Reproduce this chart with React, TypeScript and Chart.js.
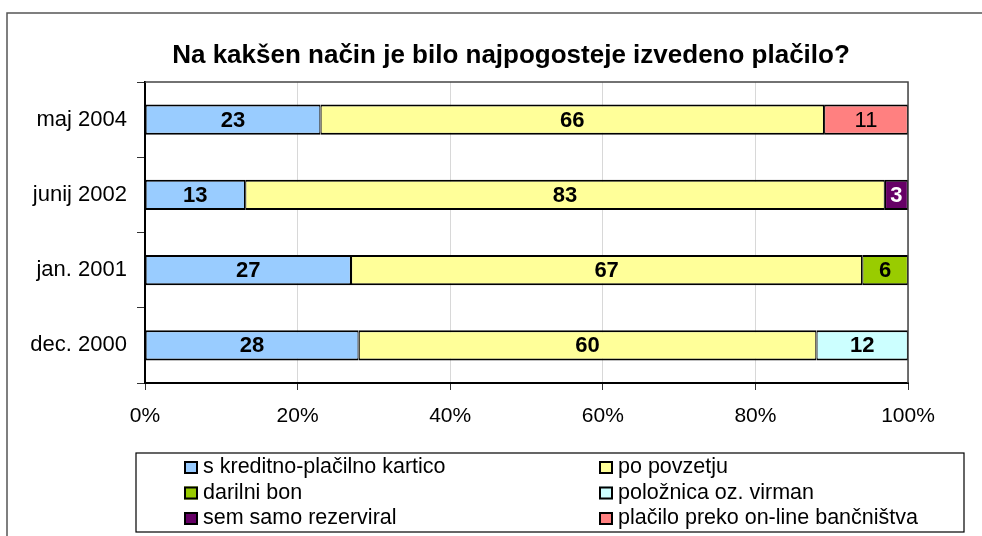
import React, { useEffect, useRef } from 'react';
import { Chart, registerables } from 'chart.js';

Chart.register(...registerables);

const titleText = 'Na kakšen način je bilo najpogosteje izvedeno plačilo?';
const categories = ['maj 2004', 'junij 2002', 'jan. 2001', 'dec. 2000'];
const seriesNames = [
  's kreditno-plačilno kartico',
  'po povzetju',
  'darilni bon',
  'položnica oz. virman',
  'sem samo rezerviral',
  'plačilo preko on-line bančništva',
];
const kartica = [23, 13, 27, 28];
const povzetje = [66, 83, 67, 60];
const darilniBon = [null, null, 6, null];
const poloznica = [null, null, null, 12];
const rezerviral = [null, 3, null, null];
const onlineBanka = [11, null, null, null];
const xTickValues = [0, 20, 40, 60, 80, 100];

const FONT = "'Liberation Sans', Arial, sans-serif";

const seriesValues: (number | null)[][] = [kartica, povzetje, darilniBon, poloznica, rezerviral, onlineBanka];
const seriesColors = ['#99CCFF', '#FFFF99', '#99CC00', '#CCFFFF', '#660066', '#FF8080'];
const labelColors = ['#000', '#000', '#000', '#000', '#fff', '#000'];
const labelWeights = ['bold', 'bold', 'bold', 'bold', 'bold', 'normal'];

// 100% stacked: each category normalised to its total
const totals = categories.map((_, i) => seriesValues.reduce((s, arr) => s + (arr[i] ?? 0), 0));
const percentValues = seriesValues.map((arr) => arr.map((v, i) => (v === null ? null : (v / totals[i]) * 100)));

const decorPlugin = {
  id: 'decor',
  beforeDraw(chart: any) {
    const ctx = chart.ctx;
    ctx.save();
    ctx.fillStyle = '#fff';
    ctx.fillRect(0, 0, chart.width, chart.height);
    ctx.strokeStyle = '#555';
    ctx.lineWidth = 1.5;
    ctx.beginPath();
    ctx.moveTo(chart.width + 2, 13);
    ctx.lineTo(7, 13);
    ctx.lineTo(7, chart.height + 2);
    ctx.stroke();
    ctx.fillStyle = '#000';
    ctx.font = `bold 26px ${FONT}`;
    ctx.textAlign = 'center';
    ctx.textBaseline = 'alphabetic';
    ctx.fillText(titleText, 511, 63);
    ctx.restore();
  },
  afterDatasetsDraw(chart: any) {
    const ctx = chart.ctx;
    const area = chart.chartArea;
    ctx.save();
    ctx.strokeStyle = '#444';
    ctx.lineWidth = 1.5;
    ctx.beginPath();
    ctx.moveTo(area.left, area.top);
    ctx.lineTo(area.right, area.top);
    ctx.lineTo(area.right, area.bottom);
    ctx.stroke();
    ctx.textAlign = 'center';
    ctx.textBaseline = 'middle';
    chart.data.datasets.forEach((ds: any, di: number) => {
      const meta = chart.getDatasetMeta(di);
      meta.data.forEach((el: any, i: number) => {
        const v = seriesValues[di][i];
        if (v === null || v === undefined) return;
        const p = el.getProps(['x', 'y', 'base'], true);
        const cx = (p.x + p.base) / 2;
        ctx.font = `${labelWeights[di]} 22px ${FONT}`;
        ctx.fillStyle = labelColors[di];
        ctx.fillText(String(v), cx, p.y + 1);
      });
    });
    ctx.strokeStyle = '#000';
    ctx.lineWidth = 1.2;
    ctx.strokeRect(136, 453, 828, 79);
    ctx.font = `21.5px ${FONT}`;
    ctx.textAlign = 'left';
    ctx.textBaseline = 'alphabetic';
    const colX = [184, 599];
    chart.data.datasets.forEach((ds: any, di: number) => {
      const col = di % 2;
      const row = Math.floor(di / 2);
      const x = colX[col];
      const base = 473 + row * 25.5;
      ctx.fillStyle = ds.backgroundColor;
      ctx.fillRect(x, base - 12, 14, 13);
      ctx.lineWidth = 2;
      ctx.strokeStyle = '#000';
      ctx.strokeRect(x + 1, base - 11, 12, 11);
      ctx.fillStyle = '#000';
      ctx.fillText(ds.label, x + 19, base);
    });
    ctx.restore();
  },
};

export default function App() {
  const ref = useRef<HTMLCanvasElement>(null);
  useEffect(() => {
    if (!ref.current) return;
    const chart = new Chart(ref.current, {
      type: 'bar',
      data: {
        labels: categories,
        datasets: seriesNames.map((name, i) => ({
          label: name,
          data: percentValues[i],
          backgroundColor: seriesColors[i],
          borderColor: '#000',
          borderWidth: { top: 2, bottom: 2, left: 1.2, right: 1.2 },
          borderSkipped: false,
          barPercentage: 0.4,
          categoryPercentage: 1,
        })),
      },
      options: {
        indexAxis: 'y',
        responsive: false,
        animation: false,
        layout: { padding: { left: 0, top: 82, right: 74, bottom: 0 } },
        plugins: {
          legend: { display: false },
          title: { display: false },
          tooltip: { enabled: false },
        },
        scales: {
          x: {
            stacked: true,
            min: 0,
            max: 100,
            afterFit: (s: any) => { s.height = 153; },
            afterBuildTicks: (s: any) => { s.ticks = xTickValues.map((v) => ({ value: v })); },
            ticks: {
              callback: (v: any) => `${v}%`,
              font: { family: FONT, size: 21 },
              color: '#000',
              padding: 14,
              maxRotation: 0,
            },
            grid: { color: '#d8d8d8', lineWidth: 1, tickColor: '#333', tickLength: 7 },
            border: { color: '#000', width: 2 },
          },
          y: {
            stacked: true,
            afterFit: (s: any) => { s.width = 145; },
            ticks: {
              font: { family: FONT, size: 22 },
              color: '#000',
              padding: 10,
            },
            grid: { drawOnChartArea: false, drawTicks: true, tickLength: 8, tickColor: '#333', offset: true },
            border: { color: '#000', width: 2 },
          },
        },
      },
      plugins: [decorPlugin],
    } as any);
    return () => chart.destroy();
  }, []);
  return (
    <div style={{ position: 'absolute', left: 0, top: 0, width: 982, height: 536 }}>
      <canvas ref={ref} width={982} height={536} style={{ width: 982, height: 536 }} />
    </div>
  );
}
